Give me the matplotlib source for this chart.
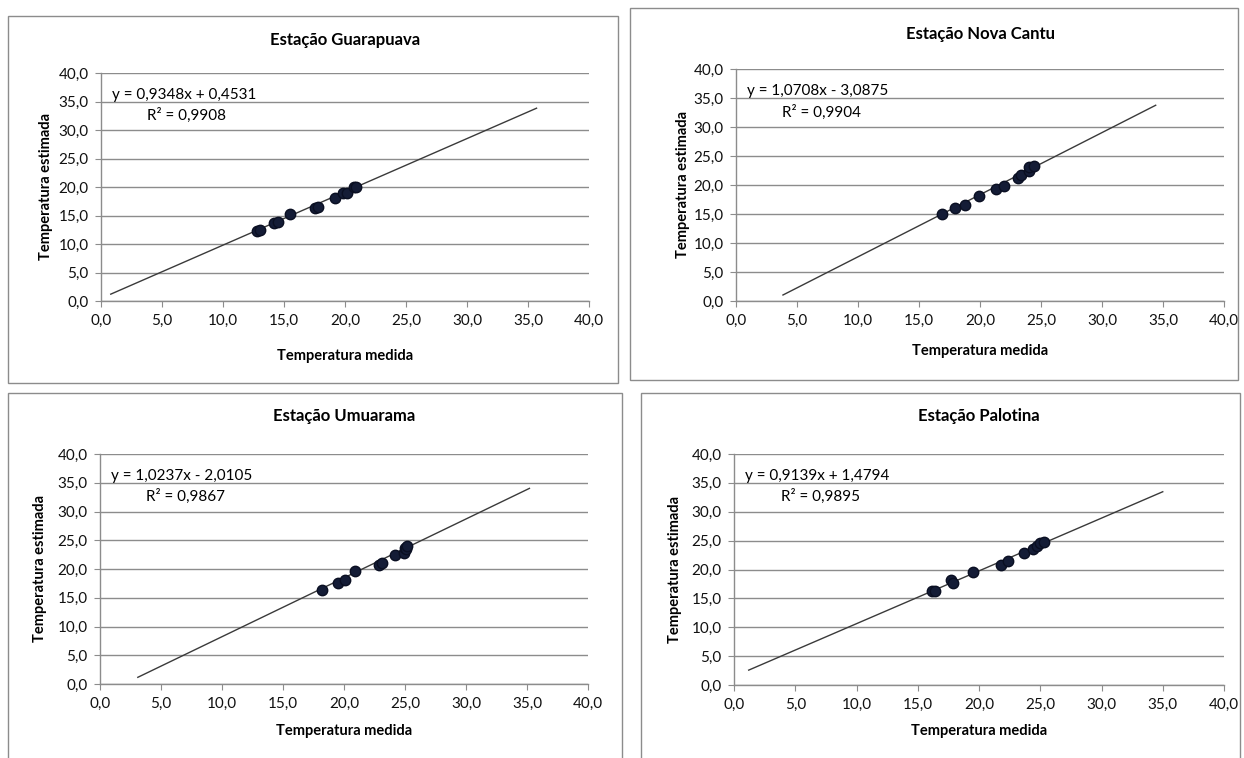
import matplotlib
matplotlib.use("Agg")
import matplotlib.pyplot as plt
from matplotlib.patches import Rectangle
from matplotlib.ticker import FuncFormatter, MultipleLocator

plt.rcParams["font.family"] = ["Lato", "DejaVu Sans"]

W, H = 1244, 758

stations = ["Estação Guarapuava", "Estação Nova Cantu", "Estação Umuarama", "Estação Palotina"]

guarapuava_x = [12.8, 13.0, 14.2, 14.5, 15.5, 17.5, 17.8, 19.2, 19.8, 20.2, 20.7, 20.9]
guarapuava_y = [12.3, 12.4, 13.6, 13.8, 15.3, 16.3, 16.5, 18.1, 19.0, 19.0, 20.0, 20.0]

nova_cantu_x = [16.9, 17.95, 18.8, 19.9, 21.3, 22.0, 23.1, 23.4, 24.0, 24.0, 24.4]
nova_cantu_y = [14.95, 16.1, 16.5, 18.1, 19.3, 19.8, 21.2, 21.8, 22.4, 23.1, 23.2]

umuarama_x = [18.2, 19.5, 20.1, 20.9, 22.9, 23.1, 24.2, 24.9, 25.0, 25.1, 25.2]
umuarama_y = [16.3, 17.5, 18.1, 19.7, 20.7, 21.1, 22.5, 22.8, 23.7, 23.4, 24.0]

palotina_x = [16.2, 16.4, 17.7, 17.9, 19.5, 21.8, 22.4, 23.7, 24.4, 24.7, 25.0, 25.3]
palotina_y = [16.3, 16.2, 18.1, 17.6, 19.6, 20.8, 21.5, 22.9, 23.5, 24.1, 24.6, 24.7]

slopes = [0.9348, 1.0708, 1.0237, 0.9139]
intercepts = [0.4531, -3.0875, -2.0105, 1.4794]
r2 = ["0,9908", "0,9904", "0,9867", "0,9895"]
eq_text = ["y = 0,9348x + 0,4531", "y = 1,0708x - 3,0875",
           "y = 1,0237x - 2,0105", "y = 0,9139x + 1,4794"]
# trendline extent along x
line_x0 = [0.8, 3.85, 3.1, 1.2]
line_x1 = [35.7, 34.4, 35.2, 35.0]

series_x = [guarapuava_x, nova_cantu_x, umuarama_x, palotina_x]
series_y = [guarapuava_y, nova_cantu_y, umuarama_y, palotina_y]

# pixel layout: (left, right, top, bottom) of plot area, and frame boxes
plot_px = [(101, 589, 73, 301), (736, 1224, 69, 301),
           (100, 588, 454, 684), (734, 1224, 454, 685)]
frame_px = [(8, 618, 16, 383), (630, 1238, 8, 380),
            (8, 622, 393, 770), (641, 1240, 393, 770)]
title_y_px = [40, 34, 416, 416]
xlabel_y_px = [356, 351, 731, 731]
ylabel_x_px = [46, 683, 40, 675]

GRID = "#8c8c8c"

fig = plt.figure(figsize=(W / 100, H / 100), dpi=100)

for (l, r, t, b) in frame_px:
    fig.patches.append(Rectangle((l / W, 1 - b / H), (r - l) / W, (b - t) / H,
                                 transform=fig.transFigure, fill=False,
                                 edgecolor=GRID, linewidth=1.0))

fmt = FuncFormatter(lambda v, p: f"{v:.1f}".replace(".", ","))

for i in range(4):
    l, r, t, b = plot_px[i]
    ax = fig.add_axes([l / W, 1 - b / H, (r - l) / W, (b - t) / H])
    ax.set_xlim(0, 40)
    ax.set_ylim(0, 40)
    ax.xaxis.set_major_locator(MultipleLocator(5))
    ax.yaxis.set_major_locator(MultipleLocator(5))
    ax.xaxis.set_major_formatter(fmt)
    ax.yaxis.set_major_formatter(fmt)
    ax.grid(axis="y", color=GRID, linewidth=1.0)
    ax.set_axisbelow(True)
    for s in ("top", "right"):
        ax.spines[s].set_visible(False)
    for s in ("left", "bottom"):
        ax.spines[s].set_color(GRID)
        ax.spines[s].set_linewidth(1.0)
    ax.tick_params(direction="out", length=4, color=GRID, labelsize=11,
                   labelcolor="#111111", pad=5)

    xs = [line_x0[i], line_x1[i]]
    ax.plot(xs, [slopes[i] * x + intercepts[i] for x in xs],
            color="#3a3a3a", linewidth=1.0, zorder=2)
    ax.plot(series_x[i], series_y[i], "o", color="#141c36",
            markeredgecolor="#0a0f22", markersize=7.5, zorder=3, clip_on=False)

    ax.text(0.9, 36.2, eq_text[i], fontsize=11, va="center", ha="left")
    ax.text(3.8, 32.6, "R² = " + r2[i], fontsize=11, va="center", ha="left")

    fig.text((l + r) / 2 / W, 1 - title_y_px[i] / H, stations[i],
             ha="center", va="center", fontsize=12, fontweight="bold")
    fig.text((l + r) / 2 / W, 1 - xlabel_y_px[i] / H, "Temperatura medida",
             ha="center", va="center", fontsize=10.5, fontweight="bold")
    fig.text(ylabel_x_px[i] / W, 1 - (t + b) / 2 / H, "Temperatura estimada",
             ha="center", va="center", rotation=90, fontsize=10.5, fontweight="bold")

fig.savefig("out.png", dpi=100)
